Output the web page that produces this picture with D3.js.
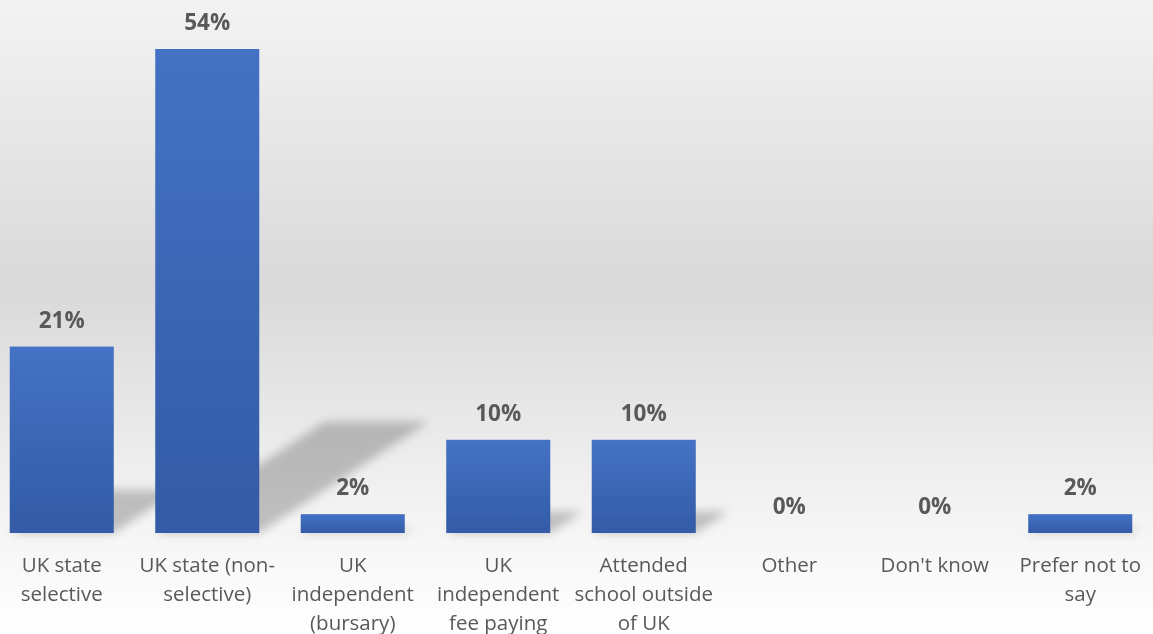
<!DOCTYPE html>
<html><head><meta charset="utf-8">
<script src="https://cdn.jsdelivr.net/npm/d3@7"></script>
<style>html,body{margin:0;padding:0;background:#fff;}svg{display:block;}</style>
</head><body>
<svg id="chart" width="1153" height="634"></svg>
<script>
const categories = ["UK state\nselective", "UK state (non-\nselective)", "UK\nindependent\n(bursary)", "UK\nindependent\nfee paying", "Attended\nschool outside\nof UK", "Other", "Don't know", "Prefer not to\nsay"];
const values = [20.8, 54, 2.1, 10.4, 10.4, 0, 0, 2.1];

const W = 1153, H = 634;
const svg = d3.select("#chart");
const defs = svg.append("defs");

const bg = defs.append("linearGradient").attr("id","bg").attr("x1",0).attr("y1",0).attr("x2",0).attr("y2",1);
[[0,"#f3f3f3"],[0.45,"#d9d9d9"],[0.85,"#f6f6f6"],[1,"#ffffff"]].forEach(([o,c])=>bg.append("stop").attr("offset",o).attr("stop-color",c));
const bar = defs.append("linearGradient").attr("id","barg").attr("x1",0).attr("y1",0).attr("x2",0).attr("y2",1);
[[0,"#4472c4"],[1,"#335ba6"]].forEach(([o,c])=>bar.append("stop").attr("offset",o).attr("stop-color",c));
defs.append("filter").attr("id","blur").attr("x","-50%").attr("y","-50%").attr("width","200%").attr("height","200%")
  .append("feGaussianBlur").attr("stdDeviation",5);

svg.append("rect").attr("width",W).attr("height",H).attr("fill","url(#bg)");

const x = d3.scaleBand().domain(d3.range(categories.length)).range([-11, 1153]).paddingInner(0.285).paddingOuter(0.1425);
const y = d3.scaleLinear().domain([0, 54]).range([533, 49]);

// shadows
const sh = svg.append("g").attr("filter","url(#blur)");
values.forEach((v,i)=>{
  if (v <= 0) return;
  const h = y(0) - y(v);
  const x0 = x(i), x1 = x(i) + x.bandwidth();
  const dx = 0.35*h, dy = 0.23*h;
  sh.append("path").attr("d", `M${x0},${y(0)}L${x1},${y(0)}L${x1+dx},${y(0)-dy}L${x0+dx},${y(0)-dy}Z`)
    .attr("fill","#000").attr("opacity",0.22);
});

svg.append("g").selectAll("rect").data(values).join("rect")
  .attr("x",(d,i)=>x(i)).attr("width",x.bandwidth())
  .attr("y",d=>y(d)).attr("height",d=>y(0)-y(d))
  .attr("fill","url(#barg)");

svg.append("g").selectAll("text").data(values).join("text")
  .attr("x",(d,i)=>x(i)+x.bandwidth()/2).attr("y",d=>y(d)-19)
  .attr("text-anchor","middle").attr("font-family","'Open Sans', sans-serif")
  .attr("font-weight","bold").attr("font-size","22.5px").attr("fill","#595959")
  .text(d=>Math.round(d)+"%");

const lab = svg.append("g").selectAll("text").data(categories).join("text")
  .attr("x",(d,i)=>x(i)+x.bandwidth()/2).attr("y",572)
  .attr("text-anchor","middle").attr("font-family","'Open Sans', sans-serif")
  .attr("font-size","20.5px").attr("fill","#595959");
lab.each(function(d){
  const t = d3.select(this);
  d.split("\n").forEach((line,k)=>{
    t.append("tspan").attr("x",t.attr("x")).attr("dy",k===0?0:29).text(line);
  });
});
</script>
</body></html>
